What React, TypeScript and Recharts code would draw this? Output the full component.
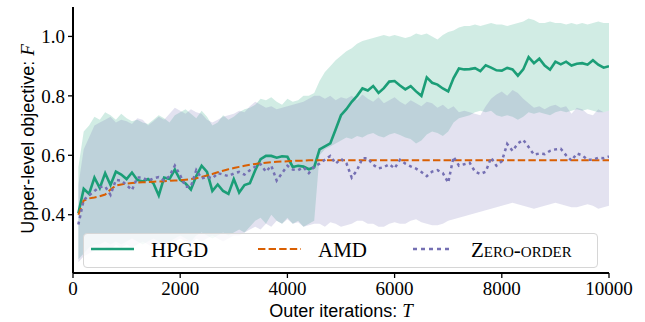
import React from 'react';
import { ComposedChart, Line, Area, XAxis, YAxis } from 'recharts';

// outer iterations (x grid)
const iterations = [
  100, 200, 300, 400, 500, 600, 700, 800, 900, 1000,
  1100, 1200, 1300, 1400, 1500, 1600, 1700, 1800, 1900, 2000,
  2100, 2200, 2300, 2400, 2500, 2600, 2700, 2800, 2900, 3000,
  3100, 3200, 3300, 3400, 3500, 3600, 3700, 3800, 3900, 4000,
  4100, 4200, 4300, 4400, 4500, 4600, 4700, 4800, 4900, 5000,
  5100, 5200, 5300, 5400, 5500, 5600, 5700, 5800, 5900, 6000,
  6100, 6200, 6300, 6400, 6500, 6600, 6700, 6800, 6900, 7000,
  7100, 7200, 7300, 7400, 7500, 7600, 7700, 7800, 7900, 8000,
  8100, 8200, 8300, 8400, 8500, 8600, 8700, 8800, 8900, 9000,
  9100, 9200, 9300, 9400, 9500, 9600, 9700, 9800, 9900, 10000,
];

const hpgd = [
  0.405, 0.487, 0.47, 0.525, 0.49, 0.54, 0.5, 0.545, 0.535, 0.52,
  0.542, 0.517, 0.512, 0.52, 0.506, 0.465, 0.525, 0.52, 0.552, 0.517,
  0.505, 0.485, 0.53, 0.565, 0.544, 0.48, 0.502, 0.48, 0.47, 0.52,
  0.475, 0.5, 0.506, 0.55, 0.587, 0.598, 0.598, 0.592, 0.597, 0.595,
  0.561, 0.565, 0.562, 0.553, 0.56, 0.62, 0.63, 0.64, 0.687, 0.735,
  0.755, 0.78, 0.8, 0.825, 0.818, 0.833, 0.81, 0.826, 0.848, 0.85,
  0.835, 0.822, 0.833, 0.815, 0.8, 0.862, 0.844, 0.838, 0.825, 0.815,
  0.86, 0.892, 0.889, 0.89, 0.893, 0.883, 0.903, 0.895, 0.886, 0.885,
  0.894, 0.889, 0.868, 0.889, 0.93, 0.91, 0.925, 0.902, 0.888, 0.915,
  0.906, 0.915, 0.902, 0.908, 0.91, 0.905, 0.92, 0.905, 0.895, 0.9,
];

const hpgdHi = [
  0.56, 0.68, 0.7, 0.73, 0.72, 0.745, 0.735, 0.72, 0.74, 0.725,
  0.715, 0.72, 0.71, 0.705, 0.72, 0.735, 0.725, 0.71, 0.735, 0.745,
  0.755, 0.74, 0.725, 0.75, 0.73, 0.7, 0.71, 0.735, 0.72, 0.73,
  0.745, 0.755, 0.76, 0.77, 0.79, 0.785, 0.795, 0.78, 0.77, 0.79,
  0.78, 0.785, 0.8, 0.8, 0.81, 0.85, 0.88, 0.9, 0.92, 0.935,
  0.95, 0.96, 0.975, 0.985, 0.99, 0.995, 1.0, 1.005, 1.0, 1.005,
  1.0, 0.995, 1.0, 1.01, 1.005, 1.01, 1.0, 0.99, 1.005, 1.015,
  1.02, 1.03, 1.035, 1.035, 1.04, 1.035, 1.04, 1.045, 1.04, 1.04,
  1.035, 1.04, 1.045, 1.05, 1.06, 1.055, 1.045, 1.045, 1.05, 1.045,
  1.045, 1.04, 1.045, 1.04, 1.045, 1.04, 1.045, 1.05, 1.045, 1.045,
];

const hpgdLo = [
  0.25, 0.27, 0.29, 0.3, 0.3, 0.31, 0.3, 0.31, 0.3, 0.31,
  0.32, 0.31, 0.3, 0.31, 0.32, 0.31, 0.3, 0.31, 0.32, 0.33,
  0.32, 0.31, 0.33, 0.34, 0.33, 0.32, 0.33, 0.34, 0.33, 0.34,
  0.35, 0.34, 0.36, 0.38, 0.39, 0.37, 0.4, 0.38, 0.37, 0.39,
  0.37, 0.38, 0.36, 0.37, 0.38, 0.6, 0.62, 0.63, 0.64, 0.65,
  0.66, 0.655, 0.665, 0.66, 0.67, 0.675, 0.665, 0.66, 0.67, 0.675,
  0.668, 0.66, 0.655, 0.64, 0.65, 0.67, 0.68, 0.675, 0.665, 0.68,
  0.71, 0.725, 0.73, 0.735, 0.745, 0.75, 0.745, 0.75, 0.735, 0.73,
  0.735, 0.73, 0.72, 0.73, 0.745, 0.74, 0.745, 0.74, 0.735, 0.745,
  0.75, 0.745, 0.75, 0.755, 0.75, 0.755, 0.75, 0.745, 0.745, 0.75,
];

const amd = [
  0.4, 0.448, 0.455, 0.458, 0.462, 0.468, 0.485, 0.498, 0.502, 0.505,
  0.507, 0.508, 0.509, 0.51, 0.511, 0.512, 0.513, 0.514, 0.515, 0.516,
  0.518, 0.52, 0.523, 0.527, 0.532, 0.537, 0.543, 0.548, 0.553, 0.557,
  0.561, 0.565, 0.568, 0.571, 0.573, 0.575, 0.577, 0.578, 0.579, 0.58,
  0.581, 0.582, 0.582, 0.583, 0.583, 0.583, 0.583, 0.583, 0.583, 0.583,
  0.583, 0.583, 0.583, 0.583, 0.583, 0.583, 0.583, 0.583, 0.583, 0.583,
  0.583, 0.583, 0.583, 0.583, 0.583, 0.583, 0.583, 0.583, 0.583, 0.583,
  0.583, 0.583, 0.583, 0.583, 0.583, 0.583, 0.583, 0.583, 0.583, 0.583,
  0.583, 0.583, 0.583, 0.583, 0.583, 0.583, 0.583, 0.583, 0.583, 0.583,
  0.583, 0.583, 0.583, 0.583, 0.583, 0.583, 0.583, 0.583, 0.583, 0.583,
];

const zeroOrder = [
  0.367, 0.45, 0.465, 0.48, 0.493, 0.495, 0.467, 0.517, 0.515, 0.5,
  0.483, 0.525, 0.525, 0.515, 0.522, 0.527, 0.515, 0.53, 0.565, 0.533,
  0.494, 0.495, 0.55, 0.522, 0.528, 0.522, 0.54, 0.535, 0.53, 0.539,
  0.544, 0.535, 0.55, 0.562, 0.57, 0.545, 0.565, 0.515, 0.54, 0.565,
  0.552, 0.55, 0.56, 0.54, 0.562, 0.572, 0.585, 0.598, 0.572, 0.588,
  0.574, 0.525, 0.55, 0.59, 0.59, 0.568, 0.556, 0.56, 0.57, 0.556,
  0.585, 0.572, 0.563, 0.555, 0.544, 0.53, 0.545, 0.55, 0.54, 0.508,
  0.595, 0.565, 0.57, 0.575, 0.545, 0.537, 0.545, 0.592, 0.565, 0.58,
  0.638, 0.615, 0.64, 0.652, 0.628, 0.602, 0.606, 0.604, 0.615, 0.62,
  0.622, 0.6, 0.582, 0.606, 0.6, 0.585, 0.585, 0.592, 0.59, 0.596,
];

const zeroOrderHi = [
  0.5, 0.62, 0.66, 0.7, 0.71, 0.72, 0.73, 0.71, 0.72, 0.715,
  0.705, 0.725, 0.72, 0.7, 0.715, 0.73, 0.72, 0.74, 0.76, 0.75,
  0.74, 0.755, 0.745, 0.74, 0.72, 0.71, 0.72, 0.73, 0.735, 0.74,
  0.75, 0.745, 0.765, 0.78, 0.77, 0.76, 0.765, 0.755, 0.76, 0.765,
  0.77, 0.775, 0.78, 0.79, 0.8, 0.8, 0.79, 0.8, 0.785, 0.795,
  0.79, 0.8, 0.785, 0.805, 0.79, 0.78, 0.795, 0.775, 0.785, 0.795,
  0.78, 0.77, 0.785, 0.775, 0.765, 0.78, 0.775, 0.76, 0.77, 0.755,
  0.765, 0.745, 0.75, 0.745, 0.74, 0.735, 0.765, 0.79, 0.805, 0.815,
  0.8, 0.82, 0.81, 0.79, 0.775, 0.76, 0.765, 0.755, 0.765, 0.77,
  0.76, 0.765, 0.74, 0.76, 0.755, 0.74, 0.735, 0.755, 0.745, 0.75,
];

const zeroOrderLo = [
  0.24, 0.26, 0.27, 0.28, 0.29, 0.29, 0.28, 0.3, 0.29, 0.3,
  0.29, 0.3, 0.31, 0.3, 0.29, 0.3, 0.31, 0.3, 0.31, 0.32,
  0.31, 0.3, 0.32, 0.31, 0.32, 0.33, 0.32, 0.31, 0.32, 0.33,
  0.33, 0.34, 0.35, 0.36, 0.35, 0.37, 0.36, 0.38, 0.37, 0.385,
  0.37, 0.375, 0.36, 0.365, 0.37, 0.37, 0.36, 0.375, 0.37, 0.36,
  0.365, 0.37, 0.38, 0.38, 0.37, 0.37, 0.36, 0.36, 0.37, 0.375,
  0.37, 0.37, 0.38, 0.385, 0.375, 0.37, 0.365, 0.365, 0.37, 0.38,
  0.385, 0.39, 0.395, 0.4, 0.405, 0.41, 0.415, 0.42, 0.425, 0.43,
  0.435, 0.44, 0.435, 0.43, 0.425, 0.42, 0.425, 0.43, 0.435, 0.44,
  0.435, 0.43, 0.425, 0.425, 0.43, 0.435, 0.43, 0.42, 0.425, 0.43,
];

const xTicks = [0, 2000, 4000, 6000, 8000, 10000];
const yTicks = [0.4, 0.6, 0.8, 1.0];

const GREEN = '#1b9e77';
const ORANGE = '#d95f02';
const PURPLE = '#7570b3';

const data = iterations.map((t, i) => ({
  t,
  hpgd: hpgd[i],
  hpgdBand: [hpgdLo[i], hpgdHi[i]],
  amd: amd[i],
  zo: zeroOrder[i],
  zoBand: [zeroOrderLo[i], zeroOrderHi[i]],
}));

const serif = '"Liberation Serif", "DejaVu Serif", serif';
const sans = '"Liberation Sans", Arial, sans-serif';
const tickStyle = { fill: '#000', fontSize: 19, fontFamily: serif };

const App: React.FC = () => {
  return (
    <div style={{ position: 'relative', width: 645, height: 322, background: '#fff' }}>
      <style>{`body { margin: 0; }`}</style>
      <ComposedChart width={645} height={322} data={data} margin={{ top: 7, right: 36, bottom: 19, left: 0 }}>
        <XAxis
          dataKey="t"
          type="number"
          domain={[0, 10000]}
          ticks={xTicks}
          height={30}
          tick={tickStyle}
          tickSize={5}
          tickMargin={4}
          axisLine={{ stroke: '#000', strokeWidth: 2 }}
          tickLine={{ stroke: '#000', strokeWidth: 1.3 }}
          allowDataOverflow
        />
        <XAxis xAxisId="top" orientation="top" type="number" domain={[0, 10000]} height={0}
          tick={false} tickLine={false} axisLine={{ stroke: '#000', strokeWidth: 2 }} />
        <YAxis
          type="number"
          domain={[0.204, 1.099]}
          ticks={yTicks}
          width={73}
          tick={tickStyle}
          tickFormatter={(v: number) => v.toFixed(1)}
          tickSize={5}
          tickMargin={3}
          axisLine={{ stroke: '#000', strokeWidth: 2 }}
          tickLine={{ stroke: '#000', strokeWidth: 1.3 }}
          allowDataOverflow
        />
        <YAxis yAxisId="right" orientation="right" type="number" domain={[0.204, 1.099]} width={0}
          tick={false} tickLine={false} axisLine={{ stroke: '#000', strokeWidth: 2 }} />

        <Area type="linear" dataKey="hpgdBand" stroke="none" fill={GREEN} fillOpacity={0.2} isAnimationActive={false} />
        <Area type="linear" dataKey="zoBand" stroke="none" fill={PURPLE} fillOpacity={0.2} isAnimationActive={false} />

        <Line type="linear" dataKey="hpgd" stroke={GREEN} strokeWidth={2.6} dot={false} isAnimationActive={false} />
        <Line type="linear" dataKey="amd" stroke={ORANGE} strokeWidth={2} strokeDasharray="7.4 3.2" dot={false} isAnimationActive={false} />
        <Line type="linear" dataKey="zo" stroke={PURPLE} strokeWidth={2.5} strokeDasharray="3 3.5" dot={false} isAnimationActive={false} />
      </ComposedChart>

      {/* axis labels */}
      <div style={{ position: 'absolute', left: 0, width: 645, top: 300, textAlign: 'center', paddingLeft: 37, boxSizing: 'border-box', fontFamily: sans, fontSize: 18, color: '#000' }}>
        Outer iterations: <span style={{ fontFamily: serif, fontStyle: 'italic', fontSize: 19 }}>T</span>
      </div>
      <div style={{ position: 'absolute', left: 28, top: 140, width: 0, height: 0 }}>
        <div style={{ position: 'absolute', left: -120, top: -12, width: 240, textAlign: 'center', transform: 'rotate(-90deg)', fontFamily: sans, fontSize: 18, color: '#000', whiteSpace: 'nowrap' }}>
          Upper-level objective: <span style={{ fontFamily: serif, fontStyle: 'italic', fontSize: 19 }}>F</span>
        </div>
      </div>

      {/* legend */}
      <div style={{ position: 'absolute', left: 83, top: 233, width: 515, height: 35, boxSizing: 'border-box', border: '1px solid #d6d6d6', borderRadius: 4, background: 'rgba(255,255,255,0.8)', fontFamily: serif, fontSize: 21, color: '#000' }}>
        <svg style={{ position: 'absolute', left: 0, top: 0 }} width={515} height={35}>
          <line x1={7} x2={50} y1={15} y2={15} stroke={GREEN} strokeWidth={2.6} />
          <line x1={174} x2={217} y1={15} y2={15} stroke={ORANGE} strokeWidth={2} strokeDasharray="7.4 3.2" />
          <line x1={329} x2={366} y1={15} y2={15} stroke={PURPLE} strokeWidth={2.5} strokeDasharray="4 4" />
        </svg>
        <span style={{ position: 'absolute', left: 67, top: 4 }}>HPGD</span>
        <span style={{ position: 'absolute', left: 234, top: 4 }}>AMD</span>
        <span style={{ position: 'absolute', left: 387, top: 4, fontVariant: 'small-caps' }}>Zero-order</span>
      </div>
    </div>
  );
};

export default App;
